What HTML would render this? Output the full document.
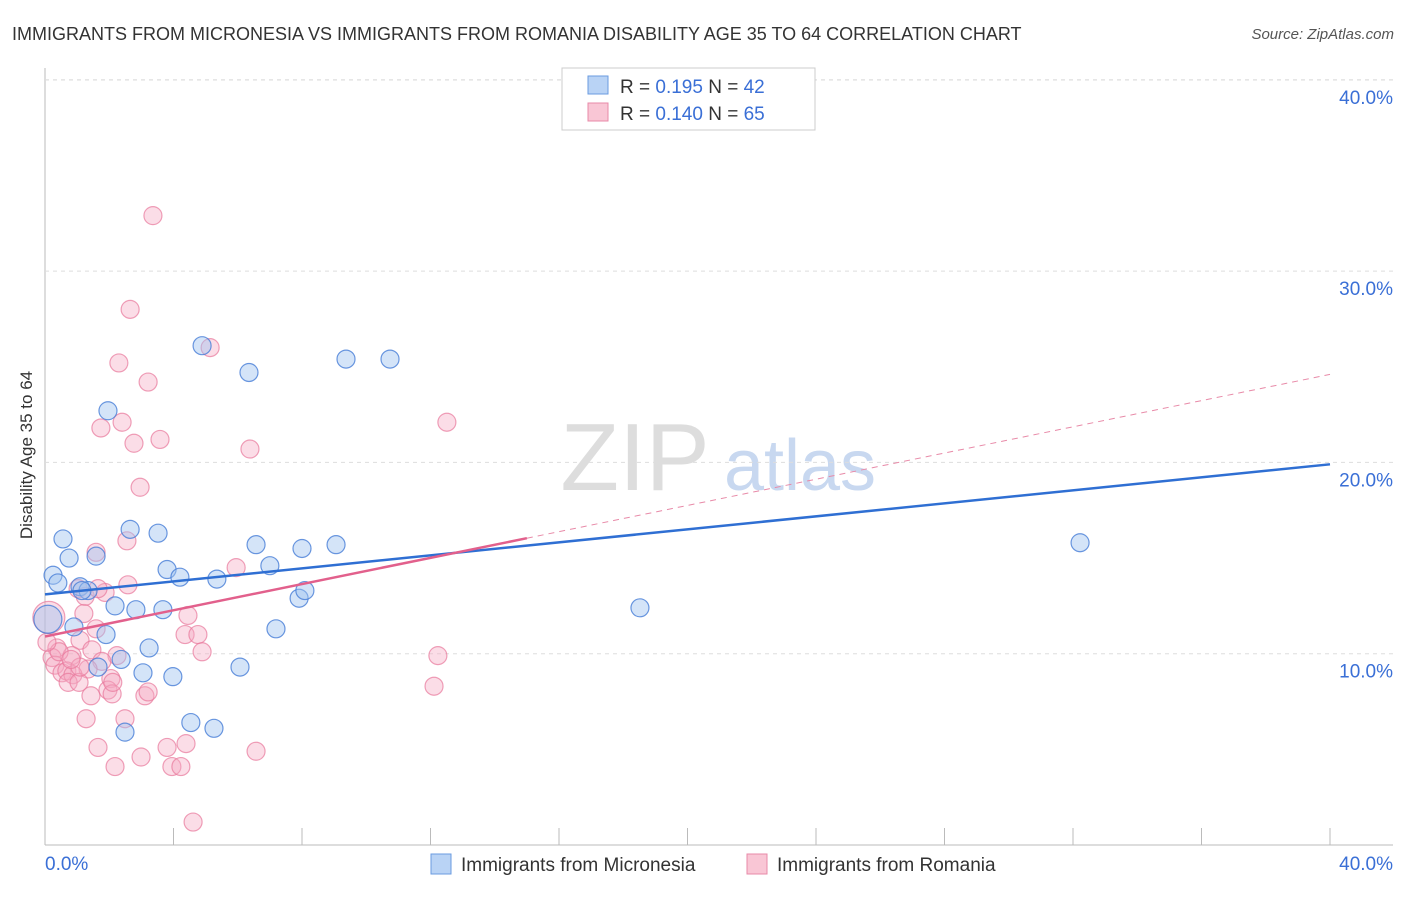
<!DOCTYPE html>
<html><head><meta charset="utf-8"><style>
body{margin:0;background:#fff;font-family:"Liberation Sans",sans-serif;}
svg text{font-family:"Liberation Sans",sans-serif;}
</style></head><body>
<svg id="c" width="1406" height="892">
<text x="12" y="40" font-size="18" fill="#333">IMMIGRANTS FROM MICRONESIA VS IMMIGRANTS FROM ROMANIA DISABILITY AGE 35 TO 64 CORRELATION CHART</text>
<text x="1394" y="39" font-size="15" fill="#555" font-style="italic" text-anchor="end">Source: ZipAtlas.com</text>
<text x="32" y="455" font-size="17" fill="#333" text-anchor="middle" transform="rotate(-90 32 455)">Disability Age 35 to 64</text>
<g><text x="635" y="490" font-size="96" fill="#ddd" font-family="Liberation Serif" text-anchor="middle">ZIP</text><text x="800" y="490" font-size="72" fill="#c8d8f0" text-anchor="middle">atlas</text></g>
<g id="grid"></g><g id="marks"></g><g id="lines"></g>
<g>
<rect x="562" y="68" width="253" height="62" fill="#fff" stroke="#ccc"/>
<rect x="588" y="76" width="20" height="18" fill="#b9d3f5" stroke="#6a9be0"/>
<text x="620" y="93" font-size="19" fill="#333">R = <tspan fill="#3a6fd6">0.195</tspan>   N = <tspan fill="#3a6fd6">42</tspan></text>
<rect x="588" y="103" width="20" height="18" fill="#f9c6d5" stroke="#e88aa8"/>
<text x="620" y="120" font-size="19" fill="#333">R = <tspan fill="#3a6fd6">0.140</tspan>   N = <tspan fill="#3a6fd6">65</tspan></text>
</g>
<g>
<rect x="431" y="854" width="20" height="20" fill="#b9d3f5" stroke="#6a9be0"/>
<text x="461" y="871" font-size="19" fill="#333">Immigrants from Micronesia</text>
<rect x="747" y="854" width="20" height="20" fill="#f9c6d5" stroke="#e88aa8"/>
<text x="777" y="871" font-size="19" fill="#333">Immigrants from Romania</text>
</g>
</svg>
<script>
const blueX=[0.25,0.40,0.56,0.75,0.09,0.90,1.09,1.34,1.59,1.90,1.96,2.18,2.37,2.49,2.65,2.83,3.05,3.24,3.52,3.67,3.80,3.98,4.20,4.54,4.89,5.26,5.35,6.07,6.35,6.57,7.00,7.19,7.91,8.00,8.09,9.06,9.37,10.74,18.52,32.22,1.65,1.15];
const blueY=[14.1,13.7,16.0,15.0,11.8,11.4,13.5,13.3,15.1,11.0,22.7,12.5,9.7,5.9,16.5,12.3,9.0,10.3,16.3,12.3,14.4,8.8,14.0,6.4,26.1,6.1,13.9,9.3,24.7,15.7,14.6,11.3,12.9,15.5,13.3,15.7,25.4,25.4,12.4,15.8,9.3,13.3];
const pinkX=[3.36,2.65,2.30,3.21,5.14,1.74,2.40,3.58,2.77,6.38,12.51,2.96,1.59,2.55,5.95,2.58,1.03,1.87,1.21,4.45,0.12,1.59,4.36,4.76,1.09,0.37,4.89,1.46,2.24,0.22,0.84,1.77,0.31,1.34,0.53,0.68,0.87,0.72,1.06,2.05,1.43,1.96,2.09,3.11,12.23,12.11,1.28,2.49,1.65,3.80,4.39,6.57,2.18,2.99,3.95,4.23,4.61,1.09,0.44,1.25,1.65,0.06,0.81,3.21,2.11];
const pinkY=[32.9,28.0,25.2,24.2,26.0,21.8,22.1,21.2,21.0,20.7,22.1,18.7,15.3,15.9,14.5,13.6,13.4,13.2,12.1,12.0,11.9,11.3,11.0,11.0,10.7,10.3,10.1,10.2,9.9,9.8,9.9,9.6,9.4,9.2,9.0,9.1,8.9,8.5,8.5,8.7,7.8,8.1,7.9,7.8,9.9,8.3,6.6,6.6,5.1,5.1,5.3,4.9,4.1,4.6,4.1,4.1,1.2,9.3,10.1,13.0,13.4,10.6,9.7,8.0,8.5];
const blueTrend=[13.1,19.9];
const pinkTrend=[10.9,24.6];
const pinkSolidEnd=15;
const yTicks=[10,20,30,40];
const yTickLabels=["10.0%","20.0%","30.0%","40.0%"];
const NS="http://www.w3.org/2000/svg";
const sx=v=>45+v/40*1285, sy=v=>845-v*19.13;
function mk(t,a,p){const e=document.createElementNS(NS,t);for(const k in a)e.setAttribute(k,a[k]);p.appendChild(e);return e;}
const grid=document.getElementById('grid'),marks=document.getElementById('marks'),lines=document.getElementById('lines');
mk('line',{x1:45,y1:68,x2:45,y2:845,stroke:'#bbb'},grid);
mk('line',{x1:45,y1:845,x2:1393,y2:845,stroke:'#bbb'},grid);
mk('line',{x1:45,y1:80,x2:1393,y2:80,stroke:'#ddd','stroke-dasharray':'4,4'},grid);
yTicks.forEach((v,i)=>{
 const g=mk('line',{x1:45,y1:sy(v),x2:1393,y2:sy(v),stroke:'#ddd','stroke-dasharray':'4,4'},grid);
 
 
 const t=mk('text',{x:1393,y:sy(v)+24,'font-size':19,fill:'#3a6fd6','text-anchor':'end'},grid);
 t.textContent=yTickLabels[i];
 
 
});
for(let i=1;i<=10;i++){mk('line',{x1:sx(i*4),y1:828,x2:sx(i*4),y2:845,stroke:'#bbb'},grid);}
const xl=mk('text',{x:45,y:870,'font-size':19,fill:'#3a6fd6'},grid);xl.textContent='0.0%';


const xr=mk('text',{x:1393,y:870,'font-size':19,fill:'#3a6fd6','text-anchor':'end'},grid);xr.textContent='40.0%';


pinkX.forEach((x,i)=>{const c=mk('circle',{cx:sx(x),cy:sy(pinkY[i]),r:i==20?16:9,fill:'rgba(246,170,195,0.4)',stroke:'rgba(232,120,155,0.7)','stroke-width':1.2},marks);
 
 });
blueX.forEach((x,i)=>{const c=mk('circle',{cx:sx(x),cy:sy(blueY[i]),r:i==4?14:9,fill:'rgba(160,195,240,0.45)',stroke:'rgba(70,125,215,0.8)','stroke-width':1.2},marks);
 
 });
const pe=pinkTrend[0]+(pinkTrend[1]-pinkTrend[0])*pinkSolidEnd/40;
const d=mk('line',{x1:sx(pinkSolidEnd),y1:sy(pe),x2:sx(40),y2:sy(pinkTrend[1]),stroke:'#e88aa8','stroke-width':1,'stroke-dasharray':'6,5'},lines);


const b=mk('line',{x1:sx(0),y1:sy(blueTrend[0]),x2:sx(40),y2:sy(blueTrend[1]),stroke:'#2f6fd3','stroke-width':2.5},lines);


const p=mk('line',{x1:sx(0),y1:sy(pinkTrend[0]),x2:sx(pinkSolidEnd),y2:sy(pe),stroke:'#e2608c','stroke-width':2.5},lines);


</script>
</body></html>
